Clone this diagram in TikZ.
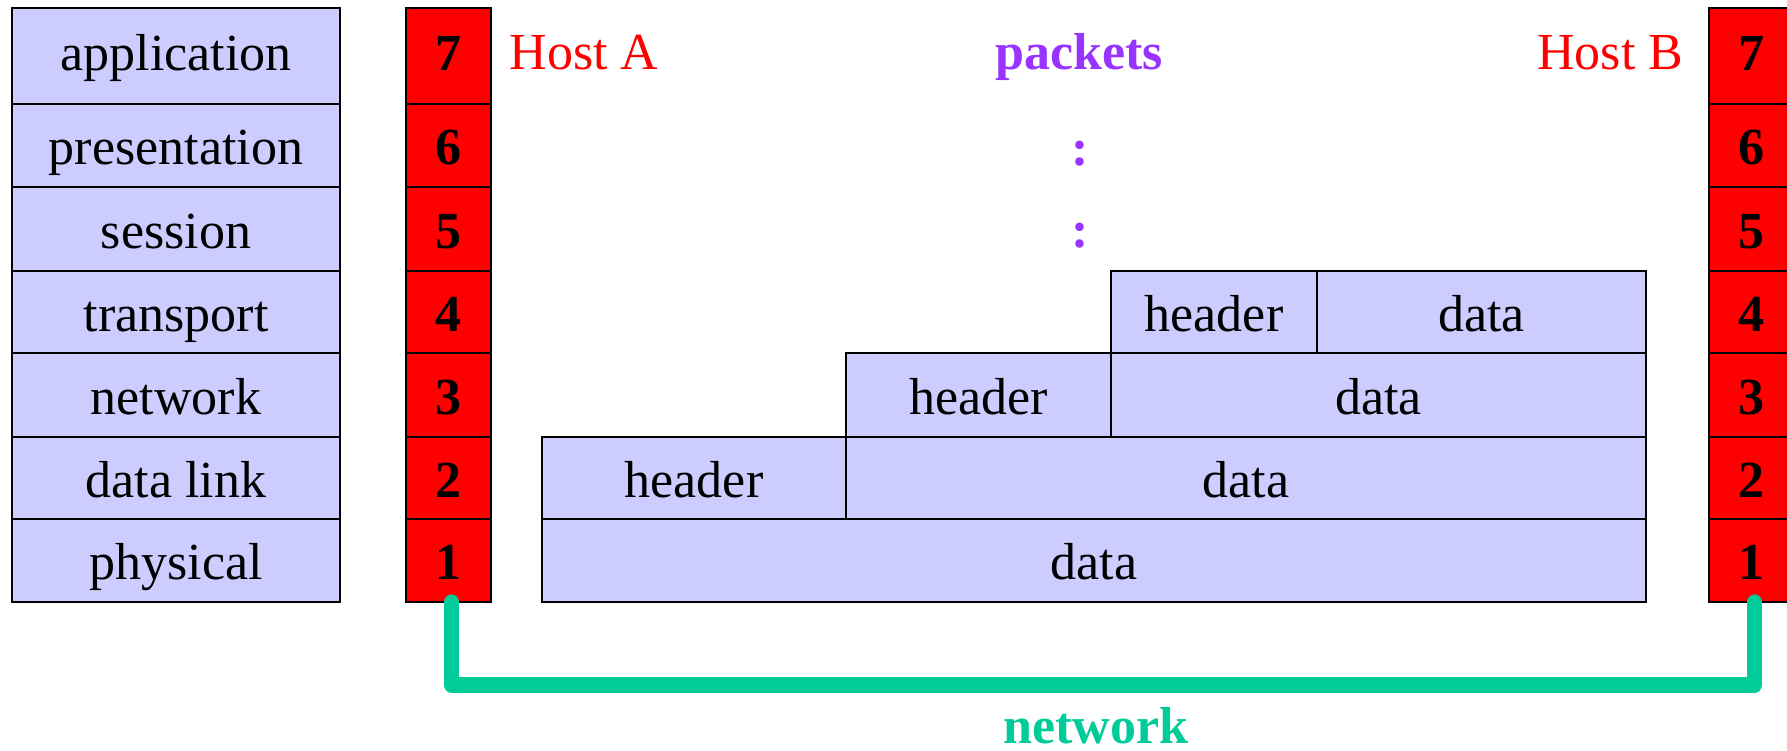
\documentclass[tikz,border=0pt]{standalone}
\usepackage{fontspec}
\setmainfont{Liberation Serif}

\definecolor{osiblue}{RGB}{204,204,255}
\definecolor{hostred}{RGB}{255,0,0}
\definecolor{netgreen}{RGB}{0,204,153}
\definecolor{pktpurple}{RGB}{153,51,255}

\newcommand{\labelsize}{\fontsize{14.8}{17.8}\selectfont}

\tikzset{
  layer/.style={draw, fill=osiblue, line width=0.8pt, inner sep=0pt, outer sep=0pt,
    font=\labelsize, text height=14pt, text depth=3pt, anchor=north west},
  digit/.style={layer, fill=hostred, font=\labelsize\bfseries},
  hostname/.style={text=hostred, font=\labelsize, inner sep=0pt},
  pktname/.style={text=pktpurple, font=\labelsize\bfseries, inner sep=0pt},
  netline/.style={draw=netgreen, line width=4.3pt, line cap=round, line join=round},
}

\begin{document}
\begin{tikzpicture}
\useasboundingbox (0,0) rectangle (17.87,7.51);

% layer names
\node[layer, minimum width=3.28cm, minimum height=0.96cm, text depth=6pt] (osi7) at (0.12,7.43) {application};
\node[layer, minimum width=3.28cm, minimum height=0.83cm] (osi6) at (0.12,6.47) {presentation};
\node[layer, minimum width=3.28cm, minimum height=0.84cm] (osi5) at (0.12,5.64) {session};
\node[layer, minimum width=3.28cm, minimum height=0.82cm] (osi4) at (0.12,4.80) {transport};
\node[layer, minimum width=3.28cm, minimum height=0.84cm] (osi3) at (0.12,3.98) {network};
\node[layer, minimum width=3.28cm, minimum height=0.82cm] (osi2) at (0.12,3.14) {data link};
\node[layer, minimum width=3.28cm, minimum height=0.83cm] (osi1) at (0.12,2.32) {physical};

% stack of host A
\node[digit, minimum width=0.85cm, minimum height=0.96cm, text depth=6pt] (hostA7) at (4.06,7.43) {7};
\node[digit, minimum width=0.85cm, minimum height=0.83cm] (hostA6) at (4.06,6.47) {6};
\node[digit, minimum width=0.85cm, minimum height=0.84cm] (hostA5) at (4.06,5.64) {5};
\node[digit, minimum width=0.85cm, minimum height=0.82cm] (hostA4) at (4.06,4.80) {4};
\node[digit, minimum width=0.85cm, minimum height=0.84cm] (hostA3) at (4.06,3.98) {3};
\node[digit, minimum width=0.85cm, minimum height=0.82cm] (hostA2) at (4.06,3.14) {2};
\node[digit, minimum width=0.85cm, minimum height=0.83cm] (hostA1) at (4.06,2.32) {1};
\node[hostname, anchor=base west] (nameA) at (5.09,6.81) {Host A};

% stack of host B
\node[digit, minimum width=0.85cm, minimum height=0.96cm, text depth=6pt] (hostB7) at (17.09,7.43) {7};
\node[digit, minimum width=0.85cm, minimum height=0.83cm] (hostB6) at (17.09,6.47) {6};
\node[digit, minimum width=0.85cm, minimum height=0.84cm] (hostB5) at (17.09,5.64) {5};
\node[digit, minimum width=0.85cm, minimum height=0.82cm] (hostB4) at (17.09,4.80) {4};
\node[digit, minimum width=0.85cm, minimum height=0.84cm] (hostB3) at (17.09,3.98) {3};
\node[digit, minimum width=0.85cm, minimum height=0.82cm] (hostB2) at (17.09,3.14) {2};
\node[digit, minimum width=0.85cm, minimum height=0.83cm] (hostB1) at (17.09,2.32) {1};
\node[hostname, anchor=base east] (nameB) at (16.84,6.81) {Host B};

% packets, one header added per layer
\node[pktname, anchor=base] (pkts) at (10.79,6.81) {packets};
\node[pktname] (dots6) at (10.80,5.97) {:};
\node[pktname] (dots5) at (10.80,5.15) {:};

\node[layer, minimum width=2.06cm, minimum height=0.82cm] (hdr4) at (11.11,4.80) {header};
\node[layer, minimum width=3.29cm, minimum height=0.82cm] (dat4) at (13.17,4.80) {data};
\node[layer, minimum width=2.65cm, minimum height=0.84cm] (hdr3) at (8.46,3.98) {header};
\node[layer, minimum width=5.35cm, minimum height=0.84cm] (dat3) at (11.11,3.98) {data};
\node[layer, minimum width=3.04cm, minimum height=0.82cm] (hdr2) at (5.42,3.14) {header};
\node[layer, minimum width=8.00cm, minimum height=0.82cm] (dat2) at (8.46,3.14) {data};
\node[layer, minimum width=11.04cm, minimum height=0.83cm] (dat1) at (5.42,2.32) {data};

% physical link
\draw[netline] ([xshift=0.03cm]hostA1.south) -- ++(0,-0.83) -| ([xshift=0.03cm]hostB1.south);
\node[pktname, text=netgreen, anchor=base] (netname) at (10.96,0.07) {network};
\end{tikzpicture}
\end{document}
